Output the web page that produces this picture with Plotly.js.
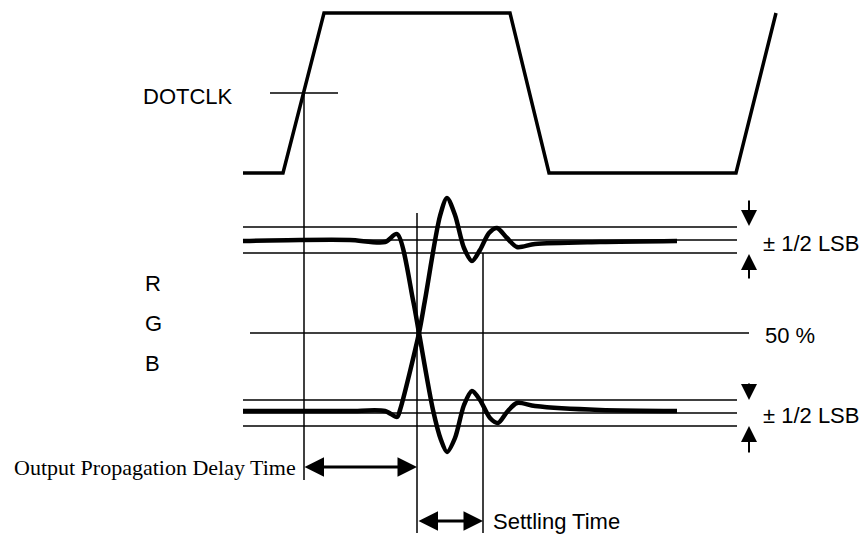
<!DOCTYPE html>
<html>
<head>
<meta charset="utf-8">
<script src="https://cdn.plot.ly/plotly-3.0.1.min.js"></script>
<style>html,body{margin:0;padding:0;background:#fff;}#chart{width:864px;height:535px;}</style>
</head>
<body>
<div id="chart"></div>
<script>
// ---- diagram data (pixel-space coordinates) ----
var clockX = [243, 283, 324, 510, 549, 736, 776];
var clockY = [173, 173, 13, 13, 173, 173, 13];

// signal starting high, settling low
var fallX = [243, 300, 350, 385, 397, 413, 419, 433, 441, 447, 455, 464, 472, 480, 490, 498, 507, 517, 535, 600, 677];
var fallY = [241, 240, 240, 242, 234, 300, 333, 410, 440, 452, 438, 405, 391, 400, 418, 423, 412, 403, 406, 410, 411];

// signal starting low, settling high
var riseX = [243, 300, 350, 385, 397, 400, 419, 425, 440, 447, 455, 464, 472, 480, 489, 497, 507, 517, 535, 600, 677];
var riseY = [411, 411, 411, 411, 417, 410, 333, 300, 216, 198, 215, 248, 261, 250, 233, 228, 238, 247, 244, 242, 241];

var bandLevels = [227, 240, 253, 400, 413, 426];
var bandX = [243, 737];
var midLevel = 333;
var midX = [250, 749];
var clkRefLevel = 93;
var clkRefX = [270, 338];

var vLineX = [304, 417, 483];
var vLineTop = [93, 213, 253];
var vLineBottom = [480, 533, 533];

var labelText = ['DOTCLK', 'R', 'G', 'B', '50 %', '\u00b1 1/2 LSB', '\u00b1 1/2 LSB', 'Settling Time'];
var labelX = [141, 143, 143, 143, 763, 761, 761, 491];
var labelY = [96, 283, 323, 363, 335, 243, 415, 521];

var serifText = ['Output Propagation Delay Time'];
var serifX = [12];
var serifY = [467];

// dimension arrows (double-headed)
var dimFrom = [[303, 467], [417, 521]];
var dimTo = [[417, 467], [483, 521]];
var lsbArrowX = 749;
var lsbTail = [199, 280, 382, 454];
var lsbTip = [226, 254, 400, 426];

// ---- build traces ----
function segs(list) {
  var x = [], y = [];
  list.forEach(function (s) { x.push(s[0], s[2], null); y.push(s[1], s[3], null); });
  return {x: x, y: y};
}
var thin = [];
bandLevels.forEach(function (lv) { thin.push([bandX[0], lv, bandX[1], lv]); });
thin.push([midX[0], midLevel, midX[1], midLevel]);
thin.push([clkRefX[0], clkRefLevel, clkRefX[1], clkRefLevel]);
vLineX.forEach(function (vx, i) { thin.push([vx, vLineTop[i], vx, vLineBottom[i]]); });
var t = segs(thin);

var traces = [
  {x: t.x, y: t.y, mode: 'lines', line: {color: '#000', width: 1.5}, hoverinfo: 'skip'},
  {x: clockX, y: clockY, mode: 'lines', line: {color: '#000', width: 3.5}, hoverinfo: 'skip'},
  {x: fallX, y: fallY, mode: 'lines', line: {color: '#000', width: 4.5, shape: 'spline', smoothing: 0.8}, hoverinfo: 'skip'},
  {x: riseX, y: riseY, mode: 'lines', line: {color: '#000', width: 4.5, shape: 'spline', smoothing: 0.8}, hoverinfo: 'skip'}
];

var ann = [];
var sans = 'Liberation Sans, Arial, sans-serif';
var serif = 'Liberation Serif, Times New Roman, serif';
labelText.forEach(function (s, i) {
  ann.push({x: labelX[i], y: labelY[i], xref: 'x', yref: 'y', text: s, showarrow: false,
    xanchor: 'left', yanchor: 'middle', font: {family: sans, size: 22, color: '#000'}});
});
serifText.forEach(function (s, i) {
  ann.push({x: serifX[i], y: serifY[i], xref: 'x', yref: 'y', text: s, showarrow: false,
    xanchor: 'left', yanchor: 'middle', font: {family: serif, size: 22, color: '#000'}});
});
dimFrom.forEach(function (f, i) {
  ann.push({x: dimTo[i][0], y: dimTo[i][1], ax: f[0], ay: f[1], xref: 'x', yref: 'y', axref: 'x', ayref: 'y',
    text: '', showarrow: true, arrowside: 'end+start', arrowhead: 2, startarrowhead: 2,
    arrowsize: 1.3, startarrowsize: 1.3, arrowwidth: 3, arrowcolor: '#000', standoff: 0, startstandoff: 0});
});
lsbTail.forEach(function (ty, i) {
  ann.push({x: lsbArrowX, y: lsbTip[i], ax: lsbArrowX, ay: ty, xref: 'x', yref: 'y', axref: 'x', ayref: 'y',
    text: '', showarrow: true, arrowhead: 2, arrowsize: 1.6, arrowwidth: 2, arrowcolor: '#000', standoff: 0});
});

var layout = {
  width: 864, height: 535,
  margin: {l: 0, r: 0, t: 0, b: 0},
  paper_bgcolor: '#fff', plot_bgcolor: '#fff',
  showlegend: false,
  xaxis: {range: [0, 864], visible: false, fixedrange: true},
  yaxis: {range: [535, 0], visible: false, fixedrange: true},
  annotations: ann
};
Plotly.newPlot('chart', traces, layout, {staticPlot: true, displayModeBar: false});
</script>
</body>
</html>
